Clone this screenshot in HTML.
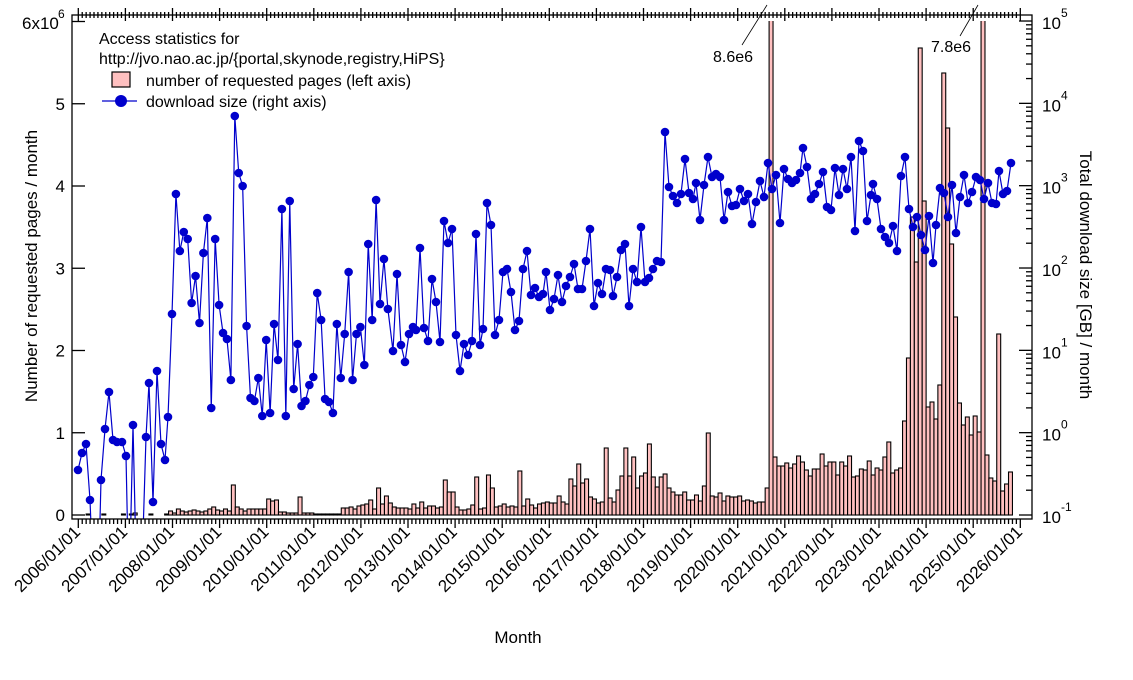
<!DOCTYPE html>
<html><head><meta charset="utf-8">
<style>
html,body{margin:0;padding:0;background:#fff;}
svg{display:block;font-family:"Liberation Sans",Arial,sans-serif;}
</style></head>
<body>
<svg id="s" width="1133" height="680" viewBox="0 0 1133 680" xmlns="http://www.w3.org/2000/svg">
<defs><clipPath id="pc"><rect x="72" y="21" width="960" height="498"/></clipPath></defs>
<g id="bars" clip-path="url(#pc)"></g>
<g id="line" clip-path="url(#pc)"></g>
<g id="axes" stroke="#000" stroke-width="1.3" fill="none"></g>
<g id="labels" font-size="17" fill="#000"></g>
<!-- legend -->
<g font-size="16" fill="#000">
<text x="99" y="44">Access statistics for</text>
<text x="99" y="64">http://jvo.nao.ac.jp/{portal,skynode,registry,HiPS}</text>
<rect x="112" y="72" width="18" height="15" fill="#ffc0c0" stroke="#000" stroke-width="1.2"/>
<text x="146" y="86">number of requested pages (left axis)</text>
<line x1="102" y1="101" x2="137" y2="101" stroke="#0000cc" stroke-width="1.3"/>
<circle cx="121" cy="101" r="6" fill="#0000cc"/>
<text x="146" y="107">download size (right axis)</text>
</g>
<g font-size="16" fill="#000">
<text x="713" y="62">8.6e6</text>
<text x="931" y="52">7.8e6</text>
</g>
<line x1="742" y1="45" x2="767" y2="5" stroke="#000" stroke-width="0.8"/>
<line x1="960" y1="36" x2="978" y2="5" stroke="#000" stroke-width="0.8"/>
<text x="518" y="643" font-size="17" text-anchor="middle">Month</text>
<text transform="translate(37,266) rotate(-90)" font-size="17" text-anchor="middle">Number of requested pages / month</text>
<text transform="translate(1080,275) rotate(90)" font-size="17" text-anchor="middle">Total download size [GB] / month</text>
</svg>
<script>
var NS="http://www.w3.org/2000/svg";
function el(p,t,a,txt){var e=document.createElementNS(NS,t);for(var k in a)e.setAttribute(k,a[k]);if(txt!==undefined)e.textContent=txt;p.appendChild(e);return e;}
var base=515, X0=78.3, MW=47.1/12;
var h=[0,0,1,0,0,0,1,0,0,0,0,1, 0,1,2,0,0,0,1,0,0,0,1,4, 2,6,4,3,4,5,4,3,4,6,8,5,
4,6,4,30,8,6,4,6,6,6,6,6, 16,14,15,3,3,2,2,2,18,2,2,2, 1,1,1,1,1,1,1, 7,7,8,6,9,10,11,15,6];
var h2=[27,11,19,12,8,7,7,7,6,11,7,13,7,9,9,7,8,35,23,23,8,5,5,6,10,38,6,7,40,27,8,9,11,8,9,8,44,9,16,10,7,11,12,13,12,12,19,13,11,36,29,51,32,36,18,16,12,13,67,17,13,25,39,67,39,58,27,39,42,71,38,28,38,41,27,23,20,20,23,15,15,20];
var h3=[14,29,82,19,18,22,14,19,18,18,19,14,15,14,12,13,13,27,600,
58,49,49,52,47,51,59,53,45,39,46,46,61,49,53,53,40,53,49,59,38,39,46,45,54,40,47,45,58,73,42,45,47,
94,157,298,253,467,314,108,113,96,130,442,387,271,198,112,90,98,80,99,83,600,60,37,34,181,24,31,43];
h=h.concat(h2).concat(h3);
var bg=document.getElementById('bars');
for(var i=0;i<h.length;i++){if(h[i]<=0)continue;
 el(bg,'rect',{x:(X0+i*MW).toFixed(2),y:(base-h[i]).toFixed(2),width:MW.toFixed(2),height:h[i],fill:'#ffc0c0',stroke:'#000','stroke-width':1.1});}
var pts=[[78,470],[82,453],[86,444],[90,500],[94,600],[98,600],[101,480],[105,429],[109,392],[113,440],[117,442],[122,442],[126,456],[129,600],[133,425],[137,600],[141,600],[146,437],[149,383],[153,502],[157,371],[161,444],[165,460],[168,417]];
var ys=[314,194,251,232,239,303,276,323,253,218,408,239,305,333,339,380,116,173,186,326,398,401,378,416,340,413,324,360,209,416,201,389,344,406,401,385,377,293,320,399,402,413,324,378,334,272,380,334,327,365,244,320,200,304,259,309];
for(var j=0;j<ys.length;j++)pts.push([172+j*3.925,ys[j]]);
var z2=[[393,351],[397,274],[401,345],[405,362],[409,334],[413,327],[416,330],[420,248],[424,328],[428,341],[432,279],[436,302],[440,342],[444,221],[448,243],[452,229],[456,335],[460,371],[464,344],[468,355],[472,341],[476,234],[480,345],[483,329],[487,203],[491,225],[495,335],[499,320],[503,272],[507,269],[511,292],[515,330],[519,321],[523,269],[527,251],[531,295],[535,288],[539,297],[543,294],[546,272],[550,310],[554,299],[558,275],[562,302],[566,286],[570,277],[574,264],[578,289],[582,289],[586,261],[590,229],[594,306],[598,283],[602,294],[606,269],[610,270],[613,296],[617,277],[621,250],[625,244],[629,306],[633,269],[637,282],[641,227],[645,282],[649,278],[653,269],[657,261],[661,262],[665,132],[669,187],[673,196],[677,203],[681,194],[685,159],[689,193],[693,199],[696,183],[700,220],
[704,185],[708,157],[712,177],[716,174],[720,177],[724,220],[728,192],[732,206],[736,205],[740,189],[744,201],[748,194],[752,224],[756,202],[760,181],[764,197],[768,163],[772,189],[776,175],[780,223],[784,169],[788,179],[792,183],[796,180],[800,173],[803,148],[807,167],[811,199],[815,194],[819,184],[823,172],[827,207],[831,210],[835,168],[839,195],[843,169],[847,189],[851,157],[855,231],[859,141],[863,151],[867,221],[871,195],[873,184],[877,199],[881,229],[885,237],[889,243],[893,226],[897,251],[901,176],[905,157],[909,209],[913,227],[917,217],[921,235],[925,250],[929,216],[933,263],[936,225],[940,188],[944,193],[948,217],[952,185],[956,233],[960,197],[964,175],[968,203],[972,192],[976,177],[980,180],[984,199],[988,183],[992,203],[996,204],[999,171],[1003,194],[1007,191],[1011,163]];
pts=pts.concat(z2);
var lg=document.getElementById('line');
el(lg,'polyline',{points:pts.map(function(p){return p[0]+','+p[1];}).join(' '),fill:'none',stroke:'#0000cc','stroke-width':1.2});
pts.forEach(function(p){if(p[1]<590)el(lg,'circle',{cx:p[0],cy:p[1],r:4.3,fill:'#0000cc'});});
var ax=document.getElementById('axes'), lb=document.getElementById('labels');
var L=72,R=1032,T=15,B=519;
el(ax,'rect',{x:L,y:T,width:R-L,height:B-T});
for(var m=0;m<=240;m++){var x=X0+m*MW, maj=(m%12==0);
 el(ax,'line',{x1:x,y1:maj?8:12,x2:x,y2:maj?21:18});
 el(ax,'line',{x1:x,y1:B,x2:x,y2:maj?528:524});
 if(maj){var yr=2006+m/12;
  el(lb,'text',{transform:'translate('+(x+3)+',533) rotate(-45)','text-anchor':'end'},yr+'/01/01');}}
// left axis
for(var k=0;k<=6;k++){var y=515-82.25*k;
 el(ax,'line',{x1:L,y1:y,x2:L+13,y2:y});
 if(k<6)el(lb,'text',{x:L-7,y:y+6,'text-anchor':'end'},String(k));}
var t6=el(lb,'text',{x:22,y:29});t6.textContent='6x10';
el(lb,'text',{x:58,y:18,'font-size':12},'6');
// right axis (log)
for(var d=-1;d<=5;d++){var y0=515-(d+1)*82.33;
 el(ax,'line',{x1:R-13,y1:y0,x2:R,y2:y0});
 el(lb,'text',{x:1042,y:y0+8},'10');
 el(lb,'text',{x:1061,y:y0-4,'font-size':12},String(d));
 if(d<5)for(var q=2;q<=9;q++){var yy=y0-82.33*Math.log10(q);el(ax,'line',{x1:R-6,y1:yy,x2:R,y2:yy});}}
</script>
</body></html>
